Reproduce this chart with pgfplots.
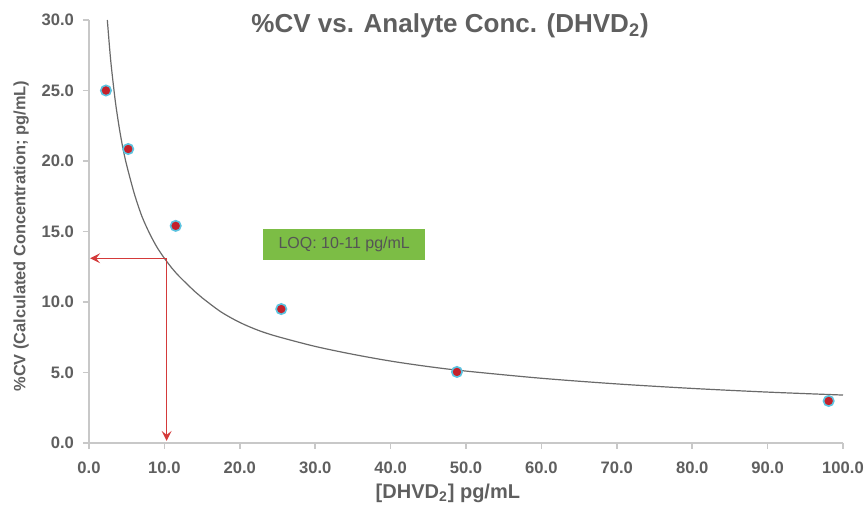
\documentclass[border=0pt]{standalone}
\usepackage{pgfplots}
\pgfplotsset{compat=1.18}
\usepackage{fontspec}
\setmainfont{Liberation Sans}
\usetikzlibrary{arrows.meta}
\definecolor{txtgray}{HTML}{5F5F5F}
\definecolor{axgray}{HTML}{C8C8C8}
\definecolor{curvegray}{HTML}{6A6A6A}
\definecolor{ptred}{HTML}{C4212B}
\definecolor{ptblue}{HTML}{5CC3E0}
\definecolor{arrred}{HTML}{D43A3A}
\definecolor{loqgreen}{HTML}{7CBD45}
\begin{document}
\begin{tikzpicture}
\useasboundingbox (-44.5pt,-37pt) rectangle (389pt,221.5pt);
\begin{axis}[
  scale only axis,
  width=377pt, height=211.5pt,
  at={(0,0)}, anchor=south west,
  xmin=0, xmax=100, ymin=0, ymax=30,
  xtick={0,10,...,100}, ytick={0,5,...,30},
  axis lines*=left,
  axis line style={axgray, line width=0.8pt, -},
  tick style={axgray, line width=0.8pt},
  tick align=outside,
  major tick length=3pt,
  /pgf/number format/assume math mode=true,
  /pgf/number format/.cd, fixed, fixed zerofill, precision=1, /pgfplots/.cd,
  ticklabel style={font=\fontsize{8.3}{9}\selectfont\bfseries, text=txtgray},
  xticklabel style={yshift=-3pt},
  yticklabel style={xshift=-1pt},
  title={\bfseries \%CV vs. Analyte Conc. (DHVD\textsubscript{2})},
  title style={at={(0.479,0.969)}, anchor=base, yshift=-5.5pt, font=\fontsize{13}{15}\selectfont, text=txtgray},
  xlabel={\bfseries [DHVD\textsubscript{2}] pg/mL},
  xlabel style={font=\fontsize{10}{11}\selectfont, text=txtgray, at={(0.476,0)}, anchor=center, yshift=-25pt},
  ylabel={\bfseries \%CV (Calculated Concentration; pg/mL)},
  ylabel style={font=\fontsize{8.2}{9}\selectfont, text=txtgray, at={(-0.090,0.489)}, anchor=center},
  clip=false,
]
% LOQ box
\fill[loqgreen] (axis cs:23.1,12.98) rectangle (axis cs:44.6,15.18);
\node[text=txtgray!90!black, font=\fontsize{8}{9}\selectfont] at (axis cs:33.85,14.08) {LOQ: 10-11 pg/mL};
% trend line
\addplot[curvegray, line width=0.6pt, smooth, tension=0.5, no marks] coordinates {
(2.43,30)(2.75,27.9)(3,26.5)(3.5,24.2)(4,22.4)(4.5,20.9)(5,19.7)(6,17.7)(7,16.1)(8,14.9)(9,13.9)(10,13.1)(11,12.4)(12,11.8)(14,10.76)(15,10.3)(17.5,9.3)(20,8.55)(22.5,7.98)(25,7.55)(30,6.85)(35,6.29)(40,5.81)(45,5.42)(50,5.10)(60,4.59)(70,4.19)(80,3.87)(90,3.61)(100,3.40)
};
% arrows
\addplot[arrred, line width=0.6pt, -{Stealth[length=5pt,width=5pt,inset=2pt]}] coordinates {(10.3,13.1)(0.15,13.1)};
\addplot[arrred, line width=0.6pt, -{Stealth[length=5pt,width=5pt,inset=2pt]}] coordinates {(10.3,13.1)(10.3,0.15)};
% data
\addplot[only marks, mark=*, mark size=2.6pt, mark options={fill=ptred, draw=ptblue, line width=0.8pt}] coordinates {
(2.25,25.0)(5.2,20.85)(11.5,15.4)(25.5,9.5)(48.8,5.04)(98.1,2.98)
};
\end{axis}
\end{tikzpicture}
\end{document}
